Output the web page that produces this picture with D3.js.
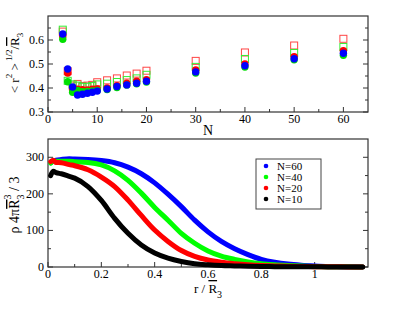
<!DOCTYPE html>
<html>
<head>
<meta charset="utf-8">
<script src="https://cdn.jsdelivr.net/npm/d3@7"></script>
<style>
  body { margin: 0; background: #fff; }
  text { font-family: "Liberation Serif", "DejaVu Serif", serif; fill: #000; }
</style>
</head>
<body>
<svg id="svg"></svg>
<script>
/**
 * CONSTANTS AND DATA
 * */
const width = 415,
  height = 321;

// top panel: <r^2>^1/2 / R3 vs N
const N = [3, 4, 5, 6, 7, 8, 9, 10, 12, 14, 16, 18, 20, 30, 40, 50, 60];
const redOpen   = [0.635, 0.470, 0.410, 0.417, 0.408, 0.410, 0.413, 0.424, 0.432, 0.440, 0.452, 0.460, 0.472, 0.513, 0.548, 0.577, 0.605];
const greenOpen = [0.643, 0.430, 0.415, 0.410, 0.405, 0.405, 0.408, 0.415, 0.418, 0.425, 0.433, 0.440, 0.455, 0.488, 0.521, 0.546, 0.571];
const redFilled   = [0.615, 0.462, 0.390, 0.395, 0.393, 0.392, 0.395, 0.396, 0.400, 0.410, 0.420, 0.428, 0.435, 0.475, 0.500, 0.530, 0.555];
const greenFilled = [0.603, 0.426, 0.382, 0.390, 0.385, 0.386, 0.388, 0.390, 0.394, 0.402, 0.412, 0.418, 0.425, 0.462, 0.487, 0.518, 0.536];
const blueFilled  = [0.625, 0.479, 0.404, 0.371, 0.374, 0.378, 0.382, 0.387, 0.396, 0.406, 0.413, 0.420, 0.428, 0.467, 0.493, 0.522, 0.545];

const topXTicks = [0, 10, 20, 30, 40, 50, 60];
const topYTicks = [0.3, 0.4, 0.5, 0.6];

// bottom panel: density profiles
const r = [0.01, 0.02, 0.03, 0.05, 0.08, 0.1, 0.15, 0.2, 0.25, 0.3, 0.35, 0.4, 0.45, 0.5, 0.55, 0.6, 0.65, 0.7, 0.75, 0.8, 0.85, 0.9, 0.95, 1.0, 1.05, 1.1, 1.15, 1.18];
const rhoN60 = [285, 290, 292, 294, 296, 295, 294, 291, 285, 273, 255, 230, 199, 165, 128, 96, 70, 50, 34, 21, 13, 8, 5, 3, 1.5, 1, 0.5, 0.3];
const rhoN40 = [284, 290, 289, 289, 289, 288, 286, 279, 263, 237, 202, 163, 128, 92, 65, 44, 30, 21, 14, 9, 6, 4, 2.5, 1.5, 1, 0.5, 0.3, 0.2];
const rhoN20 = [288, 292, 286, 285, 280, 277, 266, 246, 220, 183, 141, 101, 70, 45, 29, 19, 13, 9, 6, 4, 3, 2, 1.5, 1, 0.6, 0.4, 0.2, 0.1];
const rhoN10 = [250, 262, 258, 255, 248, 243, 220, 182, 133, 92, 60, 38, 24, 15, 9, 6, 4, 3, 2, 1.5, 1, 0.8, 0.6, 0.4, 0.3, 0.2, 0.1, 0.1];

const legendLabels = ["N=60", "N=40", "N=20", "N=10"];
const botXTicks = [0, 0.2, 0.4, 0.6, 0.8, 1];
const botYTicks = [0, 100, 200, 300];

const svg = d3.select("#svg").attr("width", width).attr("height", height);

/**
 * TOP PANEL
 * */
const xTop = d3.scaleLinear().domain([0, 65]).range([48, 368]);
const yTop = d3.scaleLinear().domain([0.3, 0.7]).range([112, 16]);

// frame + inward ticks
function frame(x, y, xMajor, xMinor, yMajor, yMinor) {
  const g = svg.append("g");
  const [x0, x1] = x.range(), [y0, y1] = y.range();
  g.append("rect")
    .attr("x", x0).attr("y", y1)
    .attr("width", x1 - x0).attr("height", y0 - y1)
    .attr("fill", "none").attr("stroke", "#333").attr("stroke-width", 1.2);
  const tick = (list, len, isX) => {
    list.forEach(v => {
      if (isX) {
        g.append("line").attr("x1", x(v)).attr("x2", x(v)).attr("y1", y0).attr("y2", y0 - len)
          .attr("stroke", "#333");
      } else {
        g.append("line").attr("x1", x0).attr("x2", x0 + len).attr("y1", y(v)).attr("y2", y(v))
          .attr("stroke", "#333");
        g.append("line").attr("x1", x1).attr("x2", x1 - len).attr("y1", y(v)).attr("y2", y(v))
          .attr("stroke", "#333");
      }
    });
  };
  tick(xMajor, 5, true);
  tick(xMinor, 3, true);
  tick(yMajor, 5, false);
  tick(yMinor, 3, false);
  return g;
}

frame(xTop, yTop, topXTicks, [5, 15, 25, 35, 45, 55],
  topYTicks, [0.35, 0.45, 0.55, 0.65]);

svg.append("g").selectAll("text")
  .data(topXTicks)
  .join("text")
  .attr("x", d => xTop(d)).attr("y", 123)
  .attr("text-anchor", "middle").attr("font-size", 12)
  .text(d => d);

svg.append("g").selectAll("text")
  .data(topYTicks)
  .join("text")
  .attr("x", 44).attr("y", d => yTop(d) + 4)
  .attr("text-anchor", "end").attr("font-size", 12)
  .text(d => d.toFixed(1));

// open squares
[[redOpen, "#f44"], [greenOpen, "#3e3"]].forEach(([vals, col]) => {
  svg.append("g").selectAll("rect")
    .data(vals)
    .join("rect")
    .attr("x", (d, i) => xTop(N[i]) - 3.5)
    .attr("y", d => yTop(d) - 3.5)
    .attr("width", 7).attr("height", 7)
    .attr("fill", "none").attr("stroke", col).attr("stroke-width", 1);
});

// filled circles
[[redFilled, "#ff0000"], [greenFilled, "#00e000"], [blueFilled, "#0000ff"]].forEach(([vals, col]) => {
  svg.append("g").selectAll("circle")
    .data(vals)
    .join("circle")
    .attr("cx", (d, i) => xTop(N[i]))
    .attr("cy", d => yTop(d))
    .attr("r", 3.7)
    .attr("fill", col);
});

// axis titles
svg.append("text").attr("x", 208).attr("y", 135)
  .attr("text-anchor", "middle").attr("font-size", 14).text("N");

const tTop = svg.append("text")
  .attr("transform", "translate(19,63) rotate(-90)")
  .attr("text-anchor", "middle").attr("font-size", 13);
tTop.append("tspan").text("< r");
tTop.append("tspan").attr("dy", -7).attr("font-size", 9).text("2");
tTop.append("tspan").attr("dy", 7).text(" >");
tTop.append("tspan").attr("dy", -7).attr("font-size", 9).text(" 1/2");
tTop.append("tspan").attr("dy", 7).text("/");
tTop.append("tspan").style("text-decoration", "overline").text("R");
tTop.append("tspan").attr("dy", 4).attr("font-size", 9).text("3");

/**
 * BOTTOM PANEL
 * */
const xBot = d3.scaleLinear().domain([0, 1.2]).range([48, 368]);
const yBot = d3.scaleLinear().domain([0, 350]).range([267, 139]);

frame(xBot, yBot, botXTicks, [0.1, 0.3, 0.5, 0.7, 0.9, 1.1],
  botYTicks, [50, 150, 250]);

svg.append("g").selectAll("text")
  .data(botXTicks)
  .join("text")
  .attr("x", d => xBot(d)).attr("y", 278)
  .attr("text-anchor", "middle").attr("font-size", 12)
  .text(d => d);

svg.append("g").selectAll("text")
  .data(botYTicks)
  .join("text")
  .attr("x", 44).attr("y", d => yBot(d) + 4)
  .attr("text-anchor", "end").attr("font-size", 12)
  .text(d => d);

const line = d3.line()
  .x((d, i) => xBot(r[i]))
  .y(d => yBot(d))
  .curve(d3.curveMonotoneX);

const curves = [
  { vals: rhoN60, color: "#0000ff" },
  { vals: rhoN40, color: "#00ff00" },
  { vals: rhoN20, color: "#ff0000" },
  { vals: rhoN10, color: "#000000" },
];

svg.append("g").selectAll("path")
  .data(curves)
  .join("path")
  .attr("d", d => line(d.vals))
  .attr("fill", "none")
  .attr("stroke", d => d.color)
  .attr("stroke-width", 5)
  .attr("stroke-linecap", "round");

// legend
const leg = svg.append("g");
leg.append("rect")
  .attr("x", 256).attr("y", 159).attr("width", 65).attr("height", 50)
  .attr("fill", "#fff").attr("stroke", "#444").attr("stroke-width", 1);
leg.selectAll("circle")
  .data(curves)
  .join("circle")
  .attr("cx", 266).attr("cy", (d, i) => 166 + i * 11)
  .attr("r", 2.3).attr("fill", d => d.color);
leg.selectAll("text")
  .data(legendLabels)
  .join("text")
  .attr("x", 277).attr("y", (d, i) => 169.5 + i * 11)
  .attr("font-size", 11)
  .text(d => d);

// axis titles
const tBx = svg.append("text").attr("x", 208).attr("y", 293)
  .attr("text-anchor", "middle").attr("font-size", 13);
tBx.append("tspan").text("r / ");
tBx.append("tspan").style("text-decoration", "overline").text("R");
tBx.append("tspan").attr("dy", 5).attr("font-size", 10).text("3");

const tBy = svg.append("text")
  .attr("transform", "translate(19,205) rotate(-90)")
  .attr("text-anchor", "middle").attr("font-size", 14);
tBy.append("tspan").text("ρ 4π");
tBy.append("tspan").style("text-decoration", "overline").text("R");
tBy.append("tspan").attr("dy", 5).attr("font-size", 10).text("3");
tBy.append("tspan").attr("dx", -5).attr("dy", -13).attr("font-size", 10).text("3");
tBy.append("tspan").attr("dy", 8).text(" / 3");
</script>
</body>
</html>
